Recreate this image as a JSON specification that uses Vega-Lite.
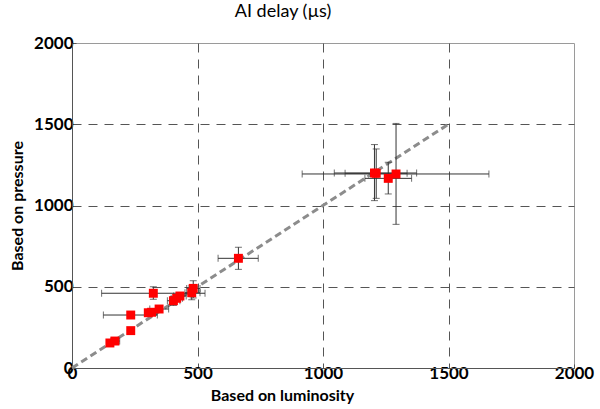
{
  "$schema": "https://vega.github.io/schema/vega-lite/v6.json",
  "width": 502,
  "height": 325,
  "autosize": {"type": "none"},
  "padding": {"left": 72, "top": 43, "right": 26, "bottom": 41},
  "title": {"text": "AI delay (µs)", "anchor": "middle", "dx": -40, "offset": 13, "font": "Lato", "fontSize": 18, "fontWeight": "normal", "color": "#000"},
  "config": {
    "view": {"stroke": "#9a9a9a", "strokeWidth": 1},
    "axis": {
      "labelFont": "Lato", "labelFontSize": 17, "labelFontWeight": "bold", "labelColor": "#000",
      "titleFont": "Lato", "titleFontSize": 16, "titleFontWeight": "bold", "titleColor": "#000",
      "domainColor": "#555", "tickColor": "#555", "tickSize": -4,
      "gridDash": [9, 7], "gridWidth": 1,
      "gridColor": {"condition": {"test": "datum.value === 0 || datum.value === 2000", "value": "transparent"}, "value": "#555"}
    }
  },
  "datasets": {
    "pts": [
      {"x": 151, "y": 154, "xlo": 140, "xhi": 165, "ylo": 145, "yhi": 165},
      {"x": 171, "y": 166, "xlo": 155, "xhi": 190, "ylo": 155, "yhi": 178},
      {"x": 234, "y": 230, "xlo": 225, "xhi": 245, "ylo": 220, "yhi": 240},
      {"x": 234, "y": 326, "xlo": 125, "xhi": 340, "ylo": 315, "yhi": 338},
      {"x": 324, "y": 460, "xlo": 118, "xhi": 530, "ylo": 423, "yhi": 500},
      {"x": 304, "y": 340, "xlo": 290, "xhi": 320, "ylo": 330, "yhi": 350},
      {"x": 317, "y": 343, "xlo": 300, "xhi": 335, "ylo": 330, "yhi": 356},
      {"x": 347, "y": 363, "xlo": 310, "xhi": 385, "ylo": 350, "yhi": 377},
      {"x": 404, "y": 414, "xlo": 380, "xhi": 430, "ylo": 385, "yhi": 440},
      {"x": 417, "y": 429, "xlo": 395, "xhi": 440, "ylo": 410, "yhi": 450},
      {"x": 430, "y": 443, "xlo": 405, "xhi": 455, "ylo": 425, "yhi": 462},
      {"x": 477, "y": 463, "xlo": 450, "xhi": 510, "ylo": 420, "yhi": 505},
      {"x": 483, "y": 490, "xlo": 457, "xhi": 510, "ylo": 431, "yhi": 537},
      {"x": 663, "y": 675, "xlo": 582, "xhi": 742, "ylo": 607, "yhi": 743},
      {"x": 1205, "y": 1200, "xlo": 1045, "xhi": 1373, "ylo": 1030, "yhi": 1375},
      {"x": 1212, "y": 1198, "xlo": 1088, "xhi": 1335, "ylo": 1044, "yhi": 1348},
      {"x": 1260, "y": 1167, "xlo": 1167, "xhi": 1353, "ylo": 1071, "yhi": 1266},
      {"x": 1291, "y": 1194, "xlo": 917, "xhi": 1661, "ylo": 884, "yhi": 1505}
    ],
    "diag": [{"x": 0, "y": 0}, {"x": 1500, "y": 1500}]
  },
  "layer": [
    {
      "data": {"name": "diag"},
      "mark": {"type": "line", "color": "#8c8c8c", "strokeWidth": 3, "strokeDash": [7, 4]},
      "encoding": {
        "x": {"field": "x", "type": "quantitative", "scale": {"domain": [0, 2000], "nice": false}, "axis": {"values": [0, 500, 1000, 1500, 2000], "format": "d", "title": "Based on luminosity", "titleX": 210, "titlePadding": 6, "labelPadding": 1, "labelFlush": false}},
        "y": {"field": "y", "type": "quantitative", "scale": {"domain": [0, 2000], "nice": false}, "axis": {"values": [0, 500, 1000, 1500, 2000], "format": "d", "title": "Based on pressure", "titlePadding": 8, "labelPadding": 3}}
      }
    },
    {
      "data": {"name": "pts"},
      "mark": {"type": "rule", "color": "#333", "strokeWidth": 1},
      "encoding": {"x": {"field": "xlo", "type": "quantitative"}, "x2": {"field": "xhi"}, "y": {"field": "y", "type": "quantitative"}}
    },
    {
      "data": {"name": "pts"},
      "mark": {"type": "rule", "color": "#333", "strokeWidth": 1},
      "encoding": {"y": {"field": "ylo", "type": "quantitative"}, "y2": {"field": "yhi"}, "x": {"field": "x", "type": "quantitative"}}
    },
    {
      "data": {"name": "pts"},
      "transform": [{"fold": ["xlo", "xhi"], "as": ["k", "xe"]}],
      "mark": {"type": "tick", "orient": "vertical", "color": "#333", "thickness": 1, "size": 7},
      "encoding": {"x": {"field": "xe", "type": "quantitative"}, "y": {"field": "y", "type": "quantitative"}}
    },
    {
      "data": {"name": "pts"},
      "transform": [{"fold": ["ylo", "yhi"], "as": ["k", "ye"]}],
      "mark": {"type": "tick", "orient": "horizontal", "color": "#333", "thickness": 1, "size": 7},
      "encoding": {"y": {"field": "ye", "type": "quantitative"}, "x": {"field": "x", "type": "quantitative"}}
    },
    {
      "data": {"name": "pts"},
      "mark": {"type": "square", "color": "#ff0000", "filled": true, "opacity": 1, "size": 80},
      "encoding": {"x": {"field": "x", "type": "quantitative"}, "y": {"field": "y", "type": "quantitative"}}
    }
  ]
}
